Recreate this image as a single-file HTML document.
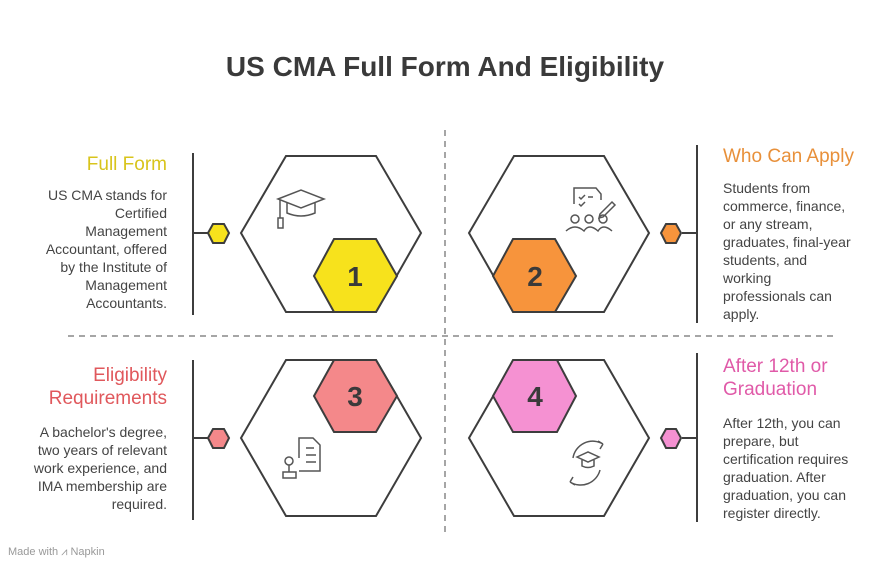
<!DOCTYPE html>
<html><head><meta charset="utf-8"><style>
body{margin:0;width:890px;height:565px;background:#fff;position:relative;overflow:hidden;font-family:"Liberation Sans",Arial,sans-serif}
.t{position:absolute;font-size:19px;line-height:23px;white-space:nowrap}
.b{position:absolute;font-size:14px;line-height:18px;color:#444;white-space:nowrap}
.r{text-align:right}
</style></head><body>
<svg width="890" height="565" style="position:absolute;left:0;top:0">
<text x="445" y="76" text-anchor="middle" font-family="Liberation Sans" font-weight="bold" font-size="28" fill="#3a3a3a">US CMA Full Form And Eligibility</text>
<g stroke="#888" stroke-width="1.5" stroke-dasharray="6,5">
<line x1="445" y1="130" x2="445" y2="532"/><line x1="68" y1="336" x2="835" y2="336"/></g>
<g stroke="#3d3d3d" stroke-width="2" fill="none">
<line x1="193" y1="153" x2="193" y2="315"/><line x1="193" y1="233" x2="208" y2="233"/>
<line x1="193" y1="360" x2="193" y2="520"/><line x1="193" y1="438" x2="208" y2="438"/>
<line x1="697" y1="145" x2="697" y2="323"/><line x1="682" y1="233" x2="697" y2="233"/>
<line x1="697" y1="353" x2="697" y2="522"/><line x1="682" y1="438" x2="697" y2="438"/>
<polygon points="241,233 286,156 376,156 421,233 376,312 286,312" fill="#fff"/>
<polygon points="469,233 514,156 604,156 649,233 604,312 514,312" fill="#fff"/>
<polygon points="241,438 286,360 376,360 421,438 376,516 286,516" fill="#fff"/>
<polygon points="469,438 514,360 604,360 649,438 604,516 514,516" fill="#fff"/>
<polygon points="314,276 334,239 376,239 397,276 376,312 334,312" fill="#f7e21c"/>
<polygon points="493,276 513,239 555,239 576,276 555,312 513,312" fill="#f7943c"/>
<polygon points="314,396 334,360 376,360 397,396 376,432 334,432" fill="#f4888a"/>
<polygon points="493,396 513,360 557,360 576,396 557,432 513,432" fill="#f591d2"/>
<polygon points="208,233 213,224 224,224 229,233 224,243 213,243" fill="#f7e21c"/>
<polygon points="208,438 213,429 224,429 229,438 224,448 213,448" fill="#f4888a"/>
<polygon points="661,233 666,224 676,224 681,233 676,243 666,243" fill="#f7943c"/>
<polygon points="661,438 666,429 676,429 681,438 676,448 666,448" fill="#f591d2"/>
</g>
<g font-family="Liberation Sans" font-weight="bold" font-size="28" fill="#3a3a3a" text-anchor="middle">
<text x="355" y="286">1</text><text x="535" y="286">2</text><text x="355" y="406">3</text><text x="535" y="406">4</text></g>
<g stroke="#555" stroke-width="1.5" fill="none">
<polygon points="278,199 301,190 324,199 301,208"/><path d="M287,203 v10 q14,6 28,0 v-10"/><path d="M280,200 v18"/><rect x="278" y="218" width="5" height="10"/>
<path d="M574,204 v-16 h22 l5,6 v6"/><path d="M579,197 l2,2 4,-4 M588,197 h5 M579,204 l2,2 4,-4"/><path d="M600,214 l12,-12 3,3 -12,12 -4,1z"/>
<circle cx="575" cy="219" r="4"/><circle cx="589" cy="219" r="4"/><circle cx="603" cy="219" r="4"/><path d="M566,231 q9,-8 18,0 q5,-8 14,0 q5,-8 14,0"/>
<path d="M299,458 v-20 h14 l7,7 v26 h-21"/><path d="M306,448 h8 M306,455 h10 M306,462 h10"/><circle cx="289" cy="461" r="4"/><path d="M283,472 h13 v6 h-13z M289,465 v7"/>
<path d="M573,458 a20,20 0 0 1 30,-14 m0,0 l-5,-3 m5,3 l-3,5"/><path d="M600,470 a20,20 0 0 1 -30,12 m0,0 l5,3 m-5,-3 l3,-5"/>
<polygon points="577,457 588,452 599,457 588,462"/><path d="M582,460 v6 q6,3 12,0 v-6"/>
</g>
<text x="8" y="555" font-family="Liberation Sans" font-size="11" fill="#999">Made with ⩘ Napkin</text>
</svg>
<div class="t r" style="right:723px;top:153px;color:#d8c41c">Full Form</div>
<div class="b r" style="right:723px;top:186px">US CMA stands for<br>Certified<br>Management<br>Accountant, offered<br>by the Institute of<br>Management<br>Accountants.</div>
<div class="t" style="left:723px;top:145px;color:#e8903a">Who Can Apply</div>
<div class="b" style="left:723px;top:179px">Students from<br>commerce, finance,<br>or any stream,<br>graduates, final-year<br>students, and<br>working<br>professionals can<br>apply.</div>
<div class="t r" style="right:723px;top:364px;color:#e0585c">Eligibility<br>Requirements</div>
<div class="b r" style="right:723px;top:423px">A bachelor's degree,<br>two years of relevant<br>work experience, and<br>IMA membership are<br>required.</div>
<div class="t" style="left:723px;top:355px;color:#e05aa8">After 12th or<br>Graduation</div>
<div class="b" style="left:723px;top:414px">After 12th, you can<br>prepare, but<br>certification requires<br>graduation. After<br>graduation, you can<br>register directly.</div>
</body></html>
